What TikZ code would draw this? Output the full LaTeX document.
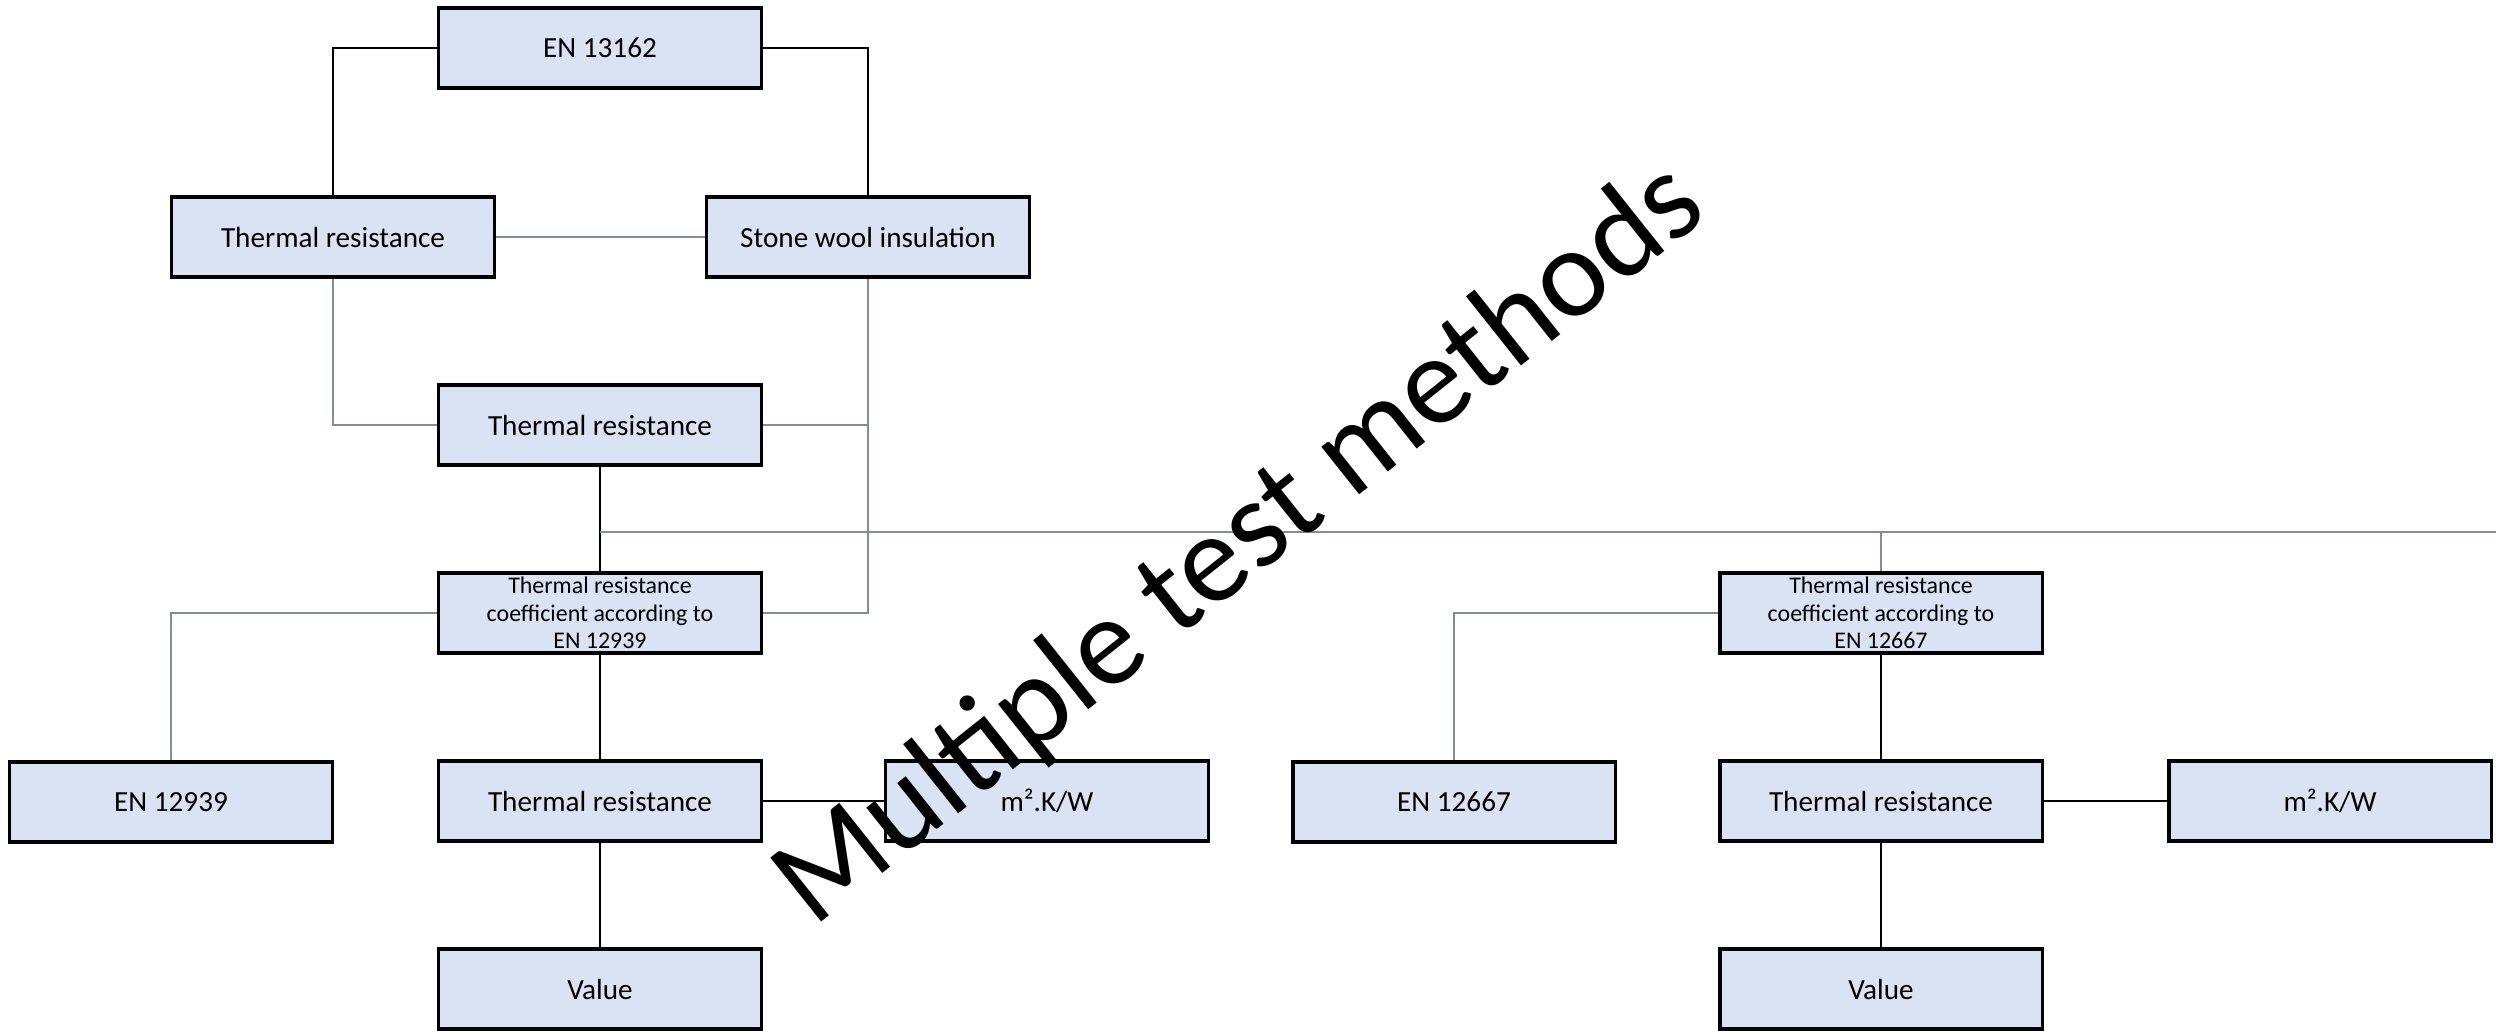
\documentclass[tikz,border=0pt]{standalone}
\usepackage{fontspec}
\setmainfont{Carlito}
\definecolor{boxfill}{RGB}{218,227,243}
\definecolor{slate}{RGB}{128,140,160}
\begin{document}
\begin{tikzpicture}[x=0.01cm,y=-0.01cm,
  box/.style={draw=black,fill=boxfill,line width=0.9pt,minimum width=3.22cm,minimum height=0.8cm,inner sep=0pt,font=\fontsize{8.3}{10}\selectfont},
  cbox/.style={box,align=center,font=\fontsize{6.8}{7.9}\selectfont},
  blk/.style={draw=black,line width=0.35pt},
  sl/.style={draw=slate,line width=0.45pt},
  slt/.style={draw=slate,line width=0.7pt}]
\useasboundingbox (0,0) rectangle (2496,1031);
\node[box] (en13162) at (600,48) {EN 13162};
\node[box] (trl) at (333,237) {Thermal resistance};
\node[box] (sw) at (868,237) {Stone wool insulation};
\node[box] (trm) at (600,425) {Thermal resistance};
\node[cbox] (c1) at (600,613) {Thermal resistance\\coefficient according to\\EN 12939};
\node[box] (en1) at (171,802) {EN 12939};
\node[box] (tr4) at (600,801) {Thermal resistance};
\node[box] (m1) at (1047,801) {m².K/W};
\node[box] (v1) at (600,989) {Value};
\node[cbox] (c2) at (1881,613) {Thermal resistance\\coefficient according to\\EN 12667};
\node[box] (en2) at (1454,802) {EN 12667};
\node[box] (tr5) at (1881,801) {Thermal resistance};
\node[box] (m2) at (2330,801) {m².K/W};
\node[box] (v2) at (1881,989) {Value};
\coordinate (rend) at (2496,532);
% connectors
\draw[blk] (en13162.west) -| (trl.north);
\draw[blk] (en13162.east) -| (sw.north);
\draw[sl] (trl.east) -- (sw.west);
\draw[sl] (trl.south) |- (trm.west);
\draw[sl] (sw.south) |- (c1.east);
\draw[sl] (trm.east) -- (trm.east -| sw.south);
\draw[blk] (trm.south) -- (c1.north);
\draw[slt] (trm.south |- rend) -- (rend);
\draw[sl] (c2.north) -- (c2.north |- rend);
\draw[sl] (c1.west) -| (en1.north);
\draw[blk] (c1.south) -- (tr4.north);
\draw[blk] (tr4.east) -- (m1.west);
\draw[blk] (tr4.south) -- (v1.north);
\draw[sl] (c2.west) -| (en2.north);
\draw[blk] (c2.south) -- (tr5.north);
\draw[blk] (tr5.east) -- (m2.west);
\draw[blk] (tr5.south) -- (v2.north);
% watermark
\node[anchor=base,rotate=38.5,inner sep=0pt,font=\fontsize{36.2}{42}\selectfont] (wm) at (1262,572) {Multiple test methods};
\end{tikzpicture}
\end{document}
